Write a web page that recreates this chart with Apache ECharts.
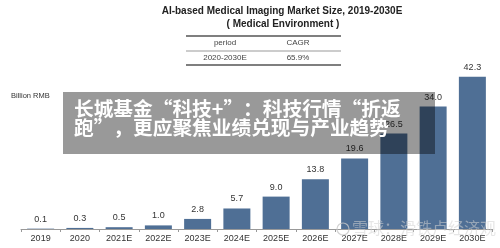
<!DOCTYPE html>
<html><head><meta charset="utf-8">
<script src="https://cdn.jsdelivr.net/npm/echarts@6/dist/echarts.min.js"></script>
<style>html,body{margin:0;padding:0;background:#fff}#c{width:500px;height:248px}</style>
</head><body><div id="c"></div>
<script>
const categories = ['2019','2020','2021E','2022E','2023E','2024E','2025E','2026E','2027E','2028E','2029E','2030E'];
const marketSize = [0.1, 0.3, 0.5, 1.0, 2.8, 5.7, 9.0, 13.8, 19.6, 26.5, 34.0, 42.3];
const tableHeader = ['period', 'CAGR'];
const tableRow = ['2020-2030E', '65.9%'];
const titleLines = ['AI-based Medical Imaging Market Size, 2019-2030E', '( Medical Environment )'];
const unitLabel = 'Billion RMB';
const overlayLines = ['长城基金“科技+”：科技行情“折返', '跑”，更应聚焦业绩兑现与产业趋势'];
const watermark = '雪球：滑铁卢经济观';

const chart = echarts.init(document.getElementById('c'), null, {renderer:'canvas'});
const F = 'Liberation Sans, Arial, sans-serif';
chart.setOption({
  animation: false,
  grid: {left: 21, right: 8, top: 49, bottom: 19},
  xAxis: {
    type: 'category', data: categories,
    axisLine: {lineStyle: {color: '#999', width: 1}},
    axisTick: {show: true, length: 3, lineStyle: {color: '#999'}},
    axisLabel: {color: '#333', fontSize: 9, fontFamily: F, margin: 5}
  },
  yAxis: {type: 'value', min: 0, max: 50, show: false, splitLine: {show: false}},
  series: [{
    type: 'bar', data: marketSize, barWidth: 27,
    itemStyle: {color: '#4F6F95'},
    label: {show: true, position: 'top', distance: 5, color: '#333', fontSize: 9, fontFamily: F,
      formatter: p => p.value.toFixed(1)}
  }],
  graphic: [
    {type: 'text', style: {text: titleLines[0], x: 282, y: 6, fontSize: 10, fontWeight: 'bold', fontFamily: F, fill: '#222', textAlign: 'center'}},
    {type: 'text', style: {text: titleLines[1], x: 283, y: 19, fontSize: 10, fontWeight: 'bold', fontFamily: F, fill: '#222', textAlign: 'center'}},
    {type: 'line', shape: {x1: 186, y1: 36, x2: 341, y2: 36}, style: {stroke: '#555', lineWidth: 1.5}},
    {type: 'line', shape: {x1: 186, y1: 51, x2: 341, y2: 51}, style: {stroke: '#999', lineWidth: 1}},
    {type: 'line', shape: {x1: 186, y1: 65, x2: 341, y2: 65}, style: {stroke: '#555', lineWidth: 1.5}},
    {type: 'text', style: {text: tableHeader[0], x: 225, y: 39, fontSize: 8, fontFamily: F, fill: '#444', textAlign: 'center'}},
    {type: 'text', style: {text: tableHeader[1], x: 298, y: 39, fontSize: 8, fontFamily: F, fill: '#444', textAlign: 'center'}},
    {type: 'text', style: {text: tableRow[0], x: 225, y: 54, fontSize: 8, fontFamily: F, fill: '#444', textAlign: 'center'}},
    {type: 'text', style: {text: tableRow[1], x: 298, y: 54, fontSize: 8, fontFamily: F, fill: '#444', textAlign: 'center'}},
    {type: 'text', style: {text: unitLabel, x: 11, y: 92, fontSize: 7.5, fontFamily: F, fill: '#333'}},
    {type: 'rect', z: 100, shape: {x: 63, y: 92, width: 372, height: 62}, style: {fill: 'rgba(0,0,0,0.4)'}},
    {type: 'text', z: 101, style: {text: overlayLines[0], x: 74, y: 99, fontSize: 19.7, fontWeight: 'bold', fontFamily: 'Noto Sans CJK SC', fill: '#fff'}},
    {type: 'text', z: 101, style: {text: overlayLines[1], x: 74, y: 118, fontSize: 19.7, fontWeight: 'bold', fontFamily: 'Noto Sans CJK SC', fill: '#fff'}},
    {type: 'circle', z: 101, shape: {cx: 343, cy: 229, r: 6}, style: {fill: 'none', stroke: 'rgba(200,200,200,0.8)', lineWidth: 1.2}},
    {type: 'text', z: 101, style: {text: watermark, x: 352, y: 220, fontSize: 16, fontFamily: 'Noto Sans CJK SC', fill: 'rgba(210,210,210,0.55)'}}
  ]
});
</script></body></html>
